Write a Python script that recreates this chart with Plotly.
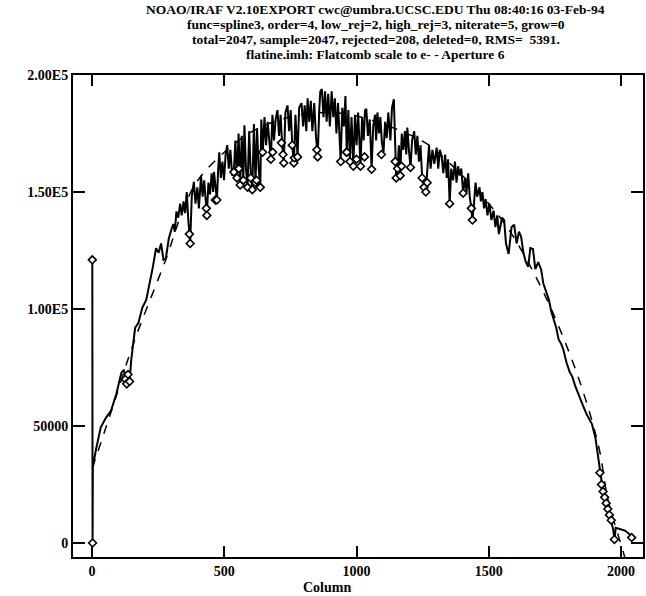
import plotly.graph_objects as go

# ---- data line (column, counts) ----
data_cols = [1, 2, 3, 15, 33, 53, 72, 92, 111, 120, 126, 131, 136, 142, 148, 163, 175, 190, 205, 218,
             230, 242, 252, 261, 270, 279, 290, 300, 307, 313, 319, 326, 333, 339, 346, 352, 358, 364, 371, 377,
             385, 391, 398, 404, 412, 418, 424, 430, 434, 440, 446, 452, 458, 461, 466, 472, 477, 481, 487, 493,
             499, 505, 511, 517, 523, 530, 536, 542, 548, 554, 560, 566, 572, 576, 582, 588, 594, 600, 606, 612,
             618, 624, 630, 636, 640, 646, 652, 658, 664, 670, 676, 682, 688, 694, 701, 707, 713, 719, 725, 731,
             739, 745, 751, 757, 763, 769, 777, 783, 792, 798, 804, 810, 815, 821, 827, 833, 840, 846, 853, 859,
             863, 869, 875, 881, 887, 893, 899, 906, 912, 918, 924, 930, 935, 940, 946, 952, 958, 963, 969, 975,
             981, 988, 994, 1000, 1006, 1015, 1021, 1027, 1032, 1037, 1043, 1050, 1057, 1063, 1070, 1074, 1079, 1085, 1090, 1096,
             1102, 1108, 1114, 1120, 1128, 1134, 1141, 1146, 1150, 1155, 1160, 1165, 1171, 1177, 1183, 1188, 1192, 1198, 1204, 1210,
             1218, 1224, 1230, 1236, 1242, 1248, 1255, 1262, 1268, 1274, 1280, 1287, 1294, 1303, 1309, 1315, 1322, 1328, 1335, 1341,
             1346, 1352, 1358, 1365, 1372, 1378, 1384, 1390, 1396, 1403, 1410, 1416, 1422, 1428, 1434, 1438, 1444, 1450, 1456, 1465,
             1470, 1476, 1482, 1488, 1495, 1502, 1510, 1518, 1525, 1532, 1538, 1550, 1558, 1565, 1575, 1586, 1596, 1605, 1614, 1622,
             1631, 1640, 1649, 1657, 1667, 1676, 1687, 1698, 1706, 1716, 1727, 1736, 1745, 1755, 1764, 1774, 1782, 1794, 1806, 1816,
             1827, 1840, 1855, 1870, 1890, 1903, 1912, 1920, 1926, 1932, 1938, 1944, 1950, 1956, 1963, 1970, 1975, 1980, 1995, 2015,
             2030, 2040, 2047]
data_vals = [121000, 0, 32400, 40000, 49400, 53600, 56600, 63800, 72800, 74000, 70000, 68000, 72000, 69000, 78000, 92000, 94000, 100500, 104000, 110700,
             118000, 126000, 124000, 128000, 121000, 121500, 130000, 134000, 136300, 133000, 141700, 139000, 145000, 140000, 146000, 141000, 150000, 138000, 128000, 148000,
             154400, 145000, 152000, 143000, 157000, 148000, 155000, 146000, 140000, 154000, 149000, 158000, 150000, 158600, 152000, 146600, 160000, 167000, 156000, 163000,
             155000, 166000, 170000, 160000, 168000, 157000, 158500, 172000, 156000, 175000, 153000, 174000, 155000, 178500, 160000, 152000, 176000, 158000, 151000, 179000,
             154000, 177000, 160000, 152000, 181000, 168000, 182000, 170000, 180000, 171000, 164000, 183000, 172000, 181000, 185000, 174000, 183000, 170000, 162400, 184000,
             187000, 176000, 185000, 170000, 162400, 183000, 165000, 186000, 188000, 178000, 187000, 176000, 190000, 180000, 189000, 176000, 188000, 175000, 165000, 185000,
             193000, 194000, 182000, 193000, 180000, 192000, 178000, 193000, 182000, 190000, 175000, 188000, 172000, 163000, 186000, 178000, 191000, 167000, 185000, 163000,
             182000, 161000, 183000, 170000, 184000, 161000, 182000, 172000, 185000, 185500, 174000, 181000, 159700, 178000, 183000, 172000, 184000, 175000, 182000, 171000,
             167000, 180000, 173000, 184000, 172000, 186000, 189600, 163000, 156000, 160000, 170000, 157000, 175000, 168000, 176000, 166000, 177500, 168000, 160500, 172000,
             176000, 166000, 174000, 163000, 170000, 156000, 152000, 150000, 163000, 170000, 160000, 168000, 162000, 169000, 160000, 168000, 165000, 158000, 166000, 156000,
             164000, 145000, 160000, 155000, 163000, 154000, 161000, 157000, 160000, 149500, 156000, 150000, 158000, 148000, 143000, 138000, 145000, 154000, 148000, 152000,
             146000, 150000, 143000, 147000, 140000, 145000, 138000, 142000, 135000, 140000, 132000, 139000, 138000, 128000, 123500, 135000, 136000, 128000, 133000, 131000,
             124000, 120000, 118000, 126000, 125600, 117000, 120000, 116800, 111000, 108000, 104000, 99000, 95300, 92000, 87000, 85000, 82600, 77000, 73000, 71000,
             67000, 63000, 59000, 55000, 50800, 45000, 38000, 30000, 25000, 22000, 19500, 17000, 14500, 12000, 9700, 6000, 1500, 6500, 6000, 5300,
             4000, 2300, 2000]

# ---- spline3 fit (dashed) ----
fit_cols = [1, 70, 160, 280, 346, 400, 500, 600, 700, 800, 880, 940, 1000, 1100, 1170, 1245, 1284, 1400, 1500, 1588,
            1716, 1838, 1916, 1951, 2011, 2047]
fit_vals = [32000, 55300, 86400, 121500, 143000, 155000, 167000, 175500, 180500, 183200, 184000, 183600, 182500, 179000, 176000, 172000, 169200, 157000, 145000, 131800,
            104900, 70900, 40900, 18200, -4900, -20000]

# ---- rejected points (diamonds) ----
rej_cols = [1, 2, 126, 131, 136, 142, 368, 371, 432, 434, 466, 472, 536, 548, 555, 560, 572, 588, 600, 606,
            618, 622, 636, 645, 676, 683, 716, 722, 725, 757, 763, 765, 777, 850, 853, 940, 962, 963, 975, 988,
            1000, 1015, 1030, 1057, 1094, 1146, 1150, 1155, 1165, 1170, 1204, 1248, 1255, 1262, 1267, 1352, 1403, 1434, 1438, 1920,
            1926, 1932, 1938, 1944, 1950, 1956, 1963, 1975, 2040]
rej_vals = [121000, 0, 70000, 68000, 72000, 69000, 132000, 128000, 143000, 140000, 146600, 146600, 158500, 156000, 160000, 153000, 155000, 152000, 156000, 151000,
            154000, 155000, 152000, 167000, 164000, 167000, 171000, 166000, 162400, 170000, 162400, 164600, 165000, 168000, 165000, 163000, 167000, 167000, 163000, 161000,
            164000, 161000, 165000, 159700, 166000, 163000, 156000, 160000, 157000, 161000, 160500, 156000, 152000, 150000, 154000, 145000, 149500, 143000, 138000, 30000,
            25000, 22000, 19500, 17000, 14500, 12000, 9700, 1500, 2300]

x_ticks = [0, 500, 1000, 1500, 2000]
y_ticks = [0, 50000, 100000, 150000, 200000]
y_tick_text = ["0", "50000", "1.00E5", "1.50E5", "2.00E5"]

title_lines = [
    "NOAO/IRAF V2.10EXPORT cwc@umbra.UCSC.EDU Thu 08:40:16 03-Feb-94",
    "func=spline3, order=4, low_rej=2, high_rej=3, niterate=5, grow=0",
    "total=2047, sample=2047, rejected=208, deleted=0, RMS=  5391.",
    "flatine.imh: Flatcomb scale to e- - Aperture 6",
]

SERIF = "Liberation Serif"
fig = go.Figure()
fig.add_trace(go.Scatter(x=fit_cols, y=fit_vals, mode="lines", line=dict(color="black", width=1.5, dash="dash", shape="spline"),
                         hoverinfo="skip"))
fig.add_trace(go.Scatter(x=data_cols, y=data_vals, mode="lines", line=dict(color="black", width=2.0)))
fig.add_trace(go.Scatter(x=rej_cols, y=rej_vals, mode="markers",
                         marker=dict(symbol="diamond", size=6, color="white", line=dict(color="black", width=1.6)),
                         cliponaxis=False))

axis_font = dict(family=SERIF, size=14, color="black", weight="bold")
fig.update_xaxes(range=[-72, 2083], tickvals=x_ticks, ticks="inside", ticklen=11, tickwidth=2, tickcolor="black",
                 showline=True, linecolor="black", linewidth=2, mirror="ticks", showgrid=False, zeroline=False,
                 tickfont=axis_font)
fig.update_yaxes(range=[-6000, 200000], tickvals=y_ticks, ticktext=y_tick_text, ticks="inside", ticklen=12, tickwidth=2,
                 tickcolor="black", showline=True, linecolor="black", linewidth=2, mirror="ticks", showgrid=False,
                 zeroline=False, tickfont=axis_font)

ann = []
shifts = [65.5, 50.5, 35.5, 20.5]
for t, s in zip(title_lines, shifts):
    ann.append(dict(text=t, xref="paper", yref="paper", x=0.5315, y=1, yshift=s, xanchor="center", yanchor="middle",
                    showarrow=False, font=dict(family=SERIF, size=13.5, color="black", weight="bold")))
ann.append(dict(text="Column", xref="paper", yref="paper", x=(328 - 73) / 572, y=0, yshift=-30, xanchor="center",
                yanchor="middle", showarrow=False, font=dict(family=SERIF, size=14, color="black", weight="bold")))

fig.update_layout(width=646, height=596, margin=dict(l=73, r=1, t=75, b=39), plot_bgcolor="white", paper_bgcolor="white",
                  showlegend=False, annotations=ann)
fig.write_html("out.html")
